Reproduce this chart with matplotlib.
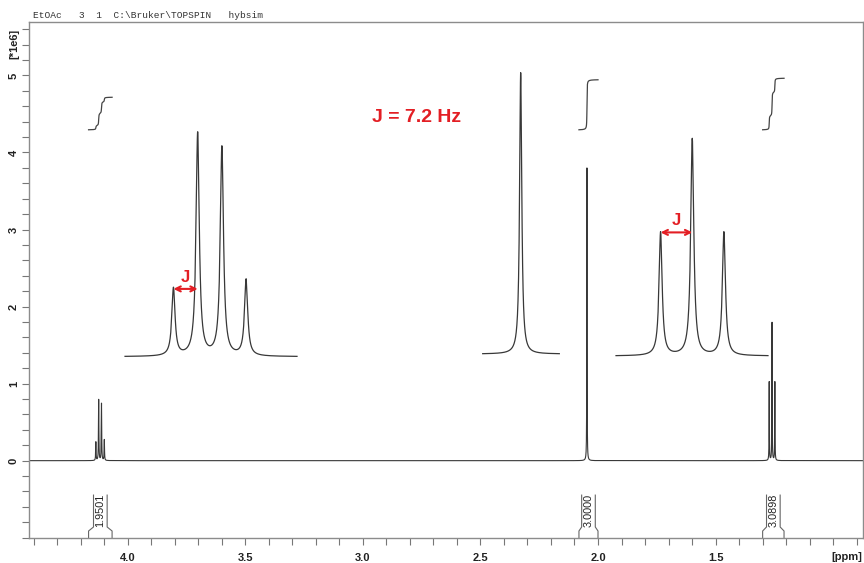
import numpy as np
import matplotlib
matplotlib.use("Agg")
import matplotlib.pyplot as plt
from matplotlib.ticker import FixedLocator, MultipleLocator, FormatStrFormatter

plt.rcParams['font.family'] = ['Liberation Sans', 'DejaVu Sans']

# peak list (ppm, intensity in units of 1e6)
quartet_ppm = [4.135, 4.123, 4.111, 4.099]
quartet_int = [0.24, 0.79, 0.74, 0.27]
singlet_ppm = [2.047]
singlet_int = [3.80]
triplet_ppm = [1.272, 1.260, 1.248]
triplet_int = [1.02, 1.79, 1.02]
# lorentzian half widths (ppm)
quartet_hw = 0.00095
singlet_hw = 0.00065
triplet_hw = 0.0007

# integration regions and values
integral_labels = ["1.9501", "3.0000", "3.0898"]
integral_values = [1.9501, 3.0000, 3.0898]
integral_lo = [4.066, 2.000, 1.209]
integral_hi = [4.166, 2.081, 1.300]

xticks = [4.0, 3.5, 3.0, 2.5, 2.0, 1.5]
yticks = [0, 1, 2, 3, 4, 5]

RED = '#e31e24'
LINE = '#383838'
W, H = 864, 563


def lorentz(x, centers, heights, hw):
    y = np.zeros_like(x)
    for c, h in zip(centers, heights):
        y += h / (1 + ((x - c) / hw) ** 2)
    return y


def px_box(x0, x1, ybase, ytop):
    # figure pixel box (y measured from top) -> axes rect
    return [x0 / W, (H - ybase) / H, (x1 - x0) / W, (ybase - ytop) / H]


x = np.linspace(0.872, 4.418, 180001)
spec = (lorentz(x, quartet_ppm, quartet_int, quartet_hw)
        + lorentz(x, singlet_ppm, singlet_int, singlet_hw)
        + lorentz(x, triplet_ppm, triplet_int, triplet_hw))

fig = plt.figure(figsize=(W / 100, H / 100), dpi=100)
ax = fig.add_axes(px_box(29.3, 863.3, 537.7, 22.3))
ax.plot(x, spec, color=LINE, lw=0.8)
ax.set_xlim(4.418, 0.872)
ax.set_ylim(-1.0, 5.69)

ax.xaxis.set_major_locator(FixedLocator(xticks))
ax.xaxis.set_minor_locator(MultipleLocator(0.1))
ax.xaxis.set_major_formatter(FormatStrFormatter('%.1f'))
ax.yaxis.set_major_locator(FixedLocator(yticks))
ax.yaxis.set_minor_locator(MultipleLocator(0.2))
ax.yaxis.set_major_formatter(FormatStrFormatter('%d'))
ax.tick_params(which='both', direction='out', length=5, width=0.8, color='#777777')
ax.tick_params(axis='x', labelsize=8, pad=6, labelcolor='#222222')
ax.tick_params(axis='y', labelsize=8, pad=2.5, labelcolor='#222222')
for tl in ax.get_xticklabels() + ax.get_yticklabels():
    tl.set_fontweight('bold')
for tl in ax.get_yticklabels():
    tl.set_rotation(90)
    tl.set_va('center')
for s in ax.spines.values():
    s.set_color('#8c8c8c')
    s.set_linewidth(1.0)

# integral curves and labels
int_base = 4.295
int_scale = 0.2163
for lab, val, lo, hi in zip(integral_labels, integral_values, integral_lo, integral_hi):
    m = (x >= lo) & (x <= hi)
    xs = x[m][::-1]
    c = np.cumsum(spec[m][::-1])
    c = c / c[-1] * val
    ax.plot(xs, int_base + c * int_scale, color='#444444', lw=0.9)
    mid = (lo + hi) / 2
    side = 0.029
    ax.plot([hi, hi, mid + side, mid + side], [-1.0, -0.913, -0.861, -0.447],
            color='#666666', lw=0.8, clip_on=False)
    ax.plot([lo, lo, mid - side, mid - side], [-1.0, -0.913, -0.861, -0.447],
            color='#666666', lw=0.8, clip_on=False)
    ax.text(mid, -0.647, lab, rotation=90, ha='center', va='center',
            fontsize=7.8, color='#222222')

# expanded insets
insets = [
    (quartet_ppm, quartet_int, (4.159, 4.0738), (125, 297, 356.7, 131.7)),
    (singlet_ppm, singlet_int, (2.066, 2.0277), (482.7, 559.3, 354, 72.7)),
    (triplet_ppm, triplet_int, (1.2889, 1.2313), (616, 768, 356, 138.3)),
]
inset_axes = []
for ppm, ints, lim, box in insets:
    ai = fig.add_axes(px_box(*box))
    m = (x <= lim[0]) & (x >= lim[1])
    ai.plot(x[m], spec[m], color=LINE, lw=0.9, clip_on=False)
    ai.set_xlim(lim)
    ai.set_ylim(0, spec[m].max())
    ai.axis('off')
    inset_axes.append(ai)

# J arrows
for ai, ppm, ints in [(inset_axes[0], quartet_ppm, quartet_int),
                      (inset_axes[2], triplet_ppm, triplet_int)]:
    h = ints[0]
    ai.annotate('', xy=(ppm[1], h), xytext=(ppm[0], h),
                arrowprops=dict(arrowstyle='<->', color=RED, lw=1.5,
                                shrinkA=0, shrinkB=0, mutation_scale=9))
    ai.annotate('J', xy=((ppm[0] + ppm[1]) / 2, h), xytext=(0, 3),
                textcoords='offset points', ha='center', va='bottom',
                color=RED, fontsize=12, fontweight='bold')

fig.text(417 / W, 1 - 117 / H, 'J = 7.2 Hz', color=RED, fontsize=14,
         fontweight='bold', ha='center', va='center')
fig.text(33 / W, 1 - 15 / H, r'EtOAc   3  1  C:\Bruker\TOPSPIN   hybsim',
         family='Liberation Mono', fontsize=6.8, color='#333333',
         ha='left', va='center')
fig.text(14 / W, 1 - 44 / H, '[*1e6]', rotation=90, fontsize=8,
         fontweight='bold', color='#222222', ha='center', va='center')
fig.text(847 / W, 1 - 557 / H, '[ppm]', fontsize=8, fontweight='bold',
         color='#222222', ha='center', va='center')

fig.savefig('out.png', dpi=100)
